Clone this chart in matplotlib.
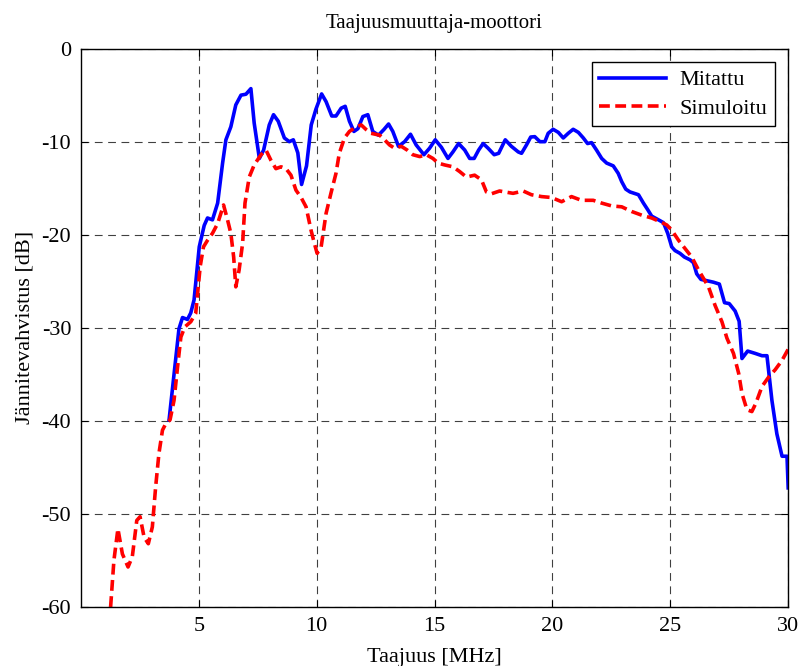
import matplotlib
matplotlib.use("Agg")
import matplotlib.pyplot as plt

# Mitattu (measured)
f_mit = [3.74, 4.16, 4.31, 4.52, 4.66, 4.80, 5.02, 5.23, 5.37, 5.58, 5.80, 6.01, 6.15, 6.36,
         6.57, 6.79, 7.00, 7.21, 7.35, 7.57, 7.75, 7.99, 8.17, 8.37, 8.63, 8.84, 9.01, 9.20,
         9.36, 9.57, 9.77, 9.97, 10.21, 10.40, 10.64, 10.82, 11.04, 11.21, 11.39, 11.58,
         11.75, 11.96, 12.17, 12.38, 12.62, 12.85, 13.05, 13.23, 13.47, 13.73, 13.98, 14.22,
         14.55, 14.79, 15.03, 15.29, 15.57, 15.78, 16.02, 16.28, 16.49, 16.68, 16.87, 17.06,
         17.27, 17.53, 17.72, 18.00, 18.26, 18.55, 18.69, 18.90, 19.08, 19.25, 19.47, 19.68,
         19.82, 20.03, 20.25, 20.46, 20.67, 20.88, 21.10, 21.31, 21.49, 21.66, 21.87, 22.09,
         22.30, 22.58, 22.79, 22.94, 23.11, 23.29, 23.65, 23.86, 24.04, 24.21, 24.50, 24.71,
         24.89, 25.06, 25.20, 25.41, 25.60, 25.84, 25.98, 26.12, 26.30, 26.48, 26.83, 27.08,
         27.30, 27.50, 27.75, 27.92, 28.04, 28.28, 28.60, 28.89, 29.10, 29.31, 29.52, 29.74,
         29.95, 30.00]
db_mit = [-39.9, -30.1, -28.9, -29.1, -28.4, -27.0, -21.3, -19.0, -18.2, -18.4, -16.6, -12.3,
          -9.8, -8.4, -6.05, -5.0, -4.9, -4.3, -8.0, -11.8, -10.9, -8.2, -7.1, -7.8, -9.6,
          -10.0, -9.8, -11.2, -14.6, -12.6, -8.2, -6.5, -4.87, -5.7, -7.24, -7.24, -6.4,
          -6.2, -7.8, -8.9, -8.6, -7.3, -7.1, -8.9, -9.3, -8.7, -8.1, -8.9, -10.5, -10.0,
          -9.2, -10.35, -11.4, -10.7, -9.8, -10.6, -11.8, -11.1, -10.2, -10.9, -11.8, -11.8,
          -10.9, -10.2, -10.7, -11.4, -11.25, -9.8, -10.5, -11.1, -11.25, -10.35, -9.5,
          -9.46, -10.0, -10.0, -9.1, -8.67, -9.0, -9.6, -9.1, -8.67, -9.0, -9.6, -10.2,
          -10.1, -10.9, -11.8, -12.3, -12.6, -13.4, -14.3, -15.1, -15.4, -15.7, -16.6,
          -17.3, -18.0, -18.4, -18.7, -19.85, -21.3, -21.7, -22.0, -22.4, -22.7, -23.0,
          -24.2, -24.8, -24.9, -25.1, -25.3, -27.3, -27.4, -28.2, -29.3, -33.3, -32.5,
          -32.75, -33.0, -33.0, -37.8, -41.4, -43.8, -43.8, -47.2]

# Simuloitu (simulated)
f_sim = [1.26, 1.40, 1.57, 1.76, 2.00, 2.18, 2.37, 2.51, 2.68, 2.86, 3.03, 3.17, 3.31, 3.46,
         3.60, 3.78, 3.95, 4.10, 4.24, 4.41, 4.66, 4.87, 5.06, 5.20, 5.37, 5.58, 5.80, 6.05,
         6.22, 6.36, 6.48, 6.57, 6.71, 6.86, 6.96, 7.14, 7.35, 7.64, 7.85, 8.06, 8.27, 8.49,
         8.70, 8.91, 9.12, 9.34, 9.55, 9.76, 9.90, 10.02, 10.19, 10.40, 10.61, 10.82, 10.96,
         11.18, 11.39, 11.67, 11.89, 12.10, 12.31, 12.67, 12.88, 13.09, 13.30, 13.59, 13.84,
         14.08, 14.37, 14.65, 14.93, 15.15, 15.43, 15.78, 16.06, 16.35, 16.70, 16.99, 17.20,
         17.41, 17.76, 17.98, 18.33, 18.76, 19.11, 19.54, 19.96, 20.39, 20.81, 21.23, 21.73,
         22.09, 22.51, 22.94, 23.36, 23.79, 24.21, 24.57, 24.85, 25.06, 25.35, 25.63, 25.91,
         26.20, 26.62, 26.90, 27.19, 27.40, 27.68, 27.90, 28.04, 28.25, 28.46, 28.63, 28.89,
         29.17, 29.45, 29.74, 30.00]
db_sim = [-60.0, -55.0, -51.6, -54.3, -55.7, -54.6, -50.7, -50.3, -52.5, -53.2, -51.4, -47.1,
          -43.5, -41.0, -40.3, -39.9, -37.8, -34.2, -31.0, -29.9, -29.35, -28.45, -23.4,
          -21.3, -20.6, -19.85, -18.8, -16.8, -18.4, -19.85, -22.4, -25.6, -23.8, -20.9,
          -16.6, -13.8, -12.5, -11.4, -10.9, -12.0, -12.9, -12.7, -12.9, -13.6, -15.2,
          -16.0, -17.0, -19.5, -20.9, -22.0, -21.3, -17.7, -15.5, -13.4, -11.25, -9.6,
          -8.9, -8.4, -8.2, -8.7, -9.1, -9.3, -9.8, -10.35, -10.7, -10.5, -10.9, -11.4,
          -11.6, -11.4, -11.8, -12.3, -12.5, -12.7, -13.2, -13.8, -13.6, -14.1, -15.4,
          -15.6, -15.3, -15.4, -15.55, -15.3, -15.7, -15.9, -16.0, -16.45, -15.9, -16.3,
          -16.3, -16.6, -16.9, -17.0, -17.5, -17.9, -18.2, -18.6, -18.95, -19.5, -20.6,
          -21.5, -22.4, -23.8, -25.6, -27.6, -29.35, -31.1, -32.75, -34.9, -37.05, -38.8,
          -39.0, -38.1, -36.3, -35.3, -34.5, -33.5, -32.3]

x_ticks = [5, 10, 15, 20, 25, 30]
y_ticks = [-60, -50, -40, -30, -20, -10, 0]

plt.rcParams["font.family"] = ["Liberation Serif", "DejaVu Serif"]
plt.rcParams["font.size"] = 16
plt.rcParams["axes.unicode_minus"] = False

fig = plt.figure(figsize=(8.01, 6.66), dpi=100)
ax = fig.add_axes([0.101, 0.0886, 0.883, 0.8384])

ax.plot(f_mit, db_mit, color="#0000ff", lw=2.6, label="Mitattu")
ax.plot(f_sim, db_sim, color="#ff0000", lw=2.6, ls=(0, (3, 1.5)), label="Simuloitu")

ax.set_xlim(0, 30)
ax.set_ylim(-60, 0)
ax.set_xticks(x_ticks)
ax.set_yticks(y_ticks)
ax.grid(True, color="black", ls=(0, (7, 5)), lw=0.8, alpha=0.75)
ax.tick_params(direction="in", top=True, right=True, length=5, width=0.8, pad=7)
for s in ax.spines.values():
    s.set_linewidth(1.0)

ax.set_xlabel("Taajuus [MHz]", labelpad=9)
ax.set_ylabel("Jännitevahvistus [dB]", labelpad=5)
ax.set_title("Taajuusmuuttaja-moottori", fontsize=15, pad=15)

leg = ax.legend(loc="upper right", fancybox=False, framealpha=1, edgecolor="black",
                borderaxespad=0.6, handlelength=3.0, borderpad=0.35, labelspacing=0.35,
                handletextpad=0.6)
leg.get_frame().set_linewidth(1.0)

fig.savefig("out.png", dpi=100)
plt.close(fig)
